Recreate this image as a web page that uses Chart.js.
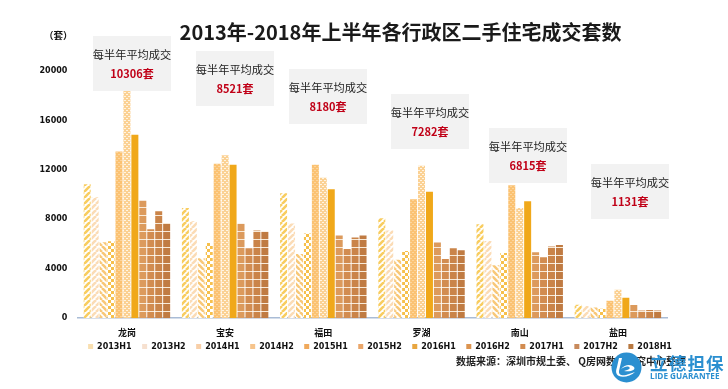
<!DOCTYPE html>
<html>
<head>
<meta charset="utf-8">
<script src="https://cdn.jsdelivr.net/npm/chart.js@4/dist/chart.umd.min.js"></script>
<style>
  html, body { margin: 0; padding: 0; background: #fff; }
  #wrap { position: relative; width: 728px; height: 389px; overflow: hidden; font-family: "Noto Sans CJK SC", sans-serif; }
  canvas { position: absolute; left: 0; top: 0; }
  .box { position: absolute; width: 78px; height: 55px; background: #f2f2f2; text-align: center; }
  .box .t { position: absolute; left: -2px; right: -2px; top: 10px; font-size: 11.2px; line-height: 16px; color: #222; white-space: nowrap; }
  .box .v { position: absolute; left: 0; right: 0; top: 29px; font-size: 11px; line-height: 16px; font-weight: 700; color: #c00017; white-space: nowrap; }
  #unit { position: absolute; left: 44px; top: 28px; font-size: 9.5px; font-weight: 700; color: #111; }
  #source { position: absolute; left: 456px; top: 353px; font-size: 10px; line-height: 15px; font-weight: 700; color: #222; white-space: nowrap; }
  #logo { position: absolute; left: 611px; top: 352px; width: 31px; height: 31px; }
  #logoCn { position: absolute; left: 650px; top: 352px; font-size: 17.5px; line-height: 22px; letter-spacing: 1.2px; font-weight: 700; color: #2b8fd0; white-space: nowrap; }
  #logoEn { position: absolute; left: 650px; top: 371px; font-family: "Open Sans", sans-serif; font-size: 8.2px; line-height: 10px; font-weight: 700; color: #2b8fd0; white-space: nowrap; }
</style>
</head>
<body>
<div id="wrap">
  <canvas id="chart" width="728" height="389"></canvas>
  <div id="unit">（套）</div>
  <div id="source">数据来源：深圳市规土委、 Q房网数据研究中心整理</div>
  <svg id="logo" viewBox="0 0 31 31">
    <circle cx="15.5" cy="15.5" r="15" fill="#2b8fd0"/>
    <path d="M11 6 L8 19 C7.5 23 11 24 15 23 L24 20 C20 24 12 26 8 24 C4 22 5 18 6 15 L8 6 Z" fill="#fff"/>
    <path d="M10 17 C14 12 20 12 23 15 C25 18 20 20 13 19 C18 18 20 16 18 15 C16 14 13 15 10 17 Z" fill="#fff"/>
  </svg>
  <div id="logoCn">立德担保</div>
  <div id="logoEn">LIDE GUARANTEE</div>
</div>
<script>
const districts = ['龙岗', '宝安', '福田', '罗湖', '南山', '盐田'];
const periods = ['2013H1', '2013H2', '2014H1', '2014H2', '2015H1', '2015H2', '2016H1', '2016H2', '2017H1', '2017H2', '2018H1'];
const tickValues = [0, 4000, 8000, 12000, 16000, 20000];
const averages = ['10306', '8521', '8180', '7282', '6815', '1131'];

const s2013H1 = [10830, 8920, 10100, 8090, 7600, 1090];
const s2013H2 = [9780, 7850, 7660, 7100, 6240, 980];
const s2014H1 = [6150, 4850, 5190, 4735, 4280, 870];
const s2014H2 = [6230, 6080, 6860, 5430, 5270, 765];
const s2015H1 = [13480, 12490, 12410, 9620, 10750, 1410];
const s2015H2 = [18900, 13190, 11370, 12330, 8920, 2295];
const s2016H1 = [14850, 12410, 10425, 10240, 9460, 1650];
const s2016H2 = [9510, 7660, 6700, 6130, 5330, 1060];
const s2017H1 = [7200, 5650, 5595, 4790, 4925, 630];
const s2017H2 = [8650, 7100, 6535, 5650, 5810, 660];
const s2018H1 = [7710, 7020, 6700, 5490, 5915, 630];
const seriesValues = [s2013H1, s2013H2, s2014H1, s2014H2, s2015H1, s2015H2, s2016H1, s2016H2, s2017H1, s2017H2, s2018H1];
const legendSwatches = ['#f9dfb0', '#f6e0cf', '#f8cfa8', '#f6c48c', '#f0a95c', '#eaa66a', '#e8a640', '#dc9450', '#d28c50', '#c88a5c', '#b87840'];

// small repeating tiles for the bar fills
function tile(w, h, draw) {
  const c = document.createElement('canvas');
  c.width = w; c.height = h;
  draw(c.getContext('2d'), w, h);
  return document.getElementById('chart').getContext('2d').createPattern(c, 'repeat');
}
function diag(color, up) {
  return tile(6, 6, (g, w, h) => {
    g.fillStyle = '#fff'; g.fillRect(0, 0, w, h);
    g.strokeStyle = color; g.lineWidth = 2.6;
    for (let i = -6; i <= 12; i += 6) {
      g.beginPath();
      if (up) { g.moveTo(i, 6); g.lineTo(i + 6, 0); }
      else { g.moveTo(i, 0); g.lineTo(i + 6, 6); }
      g.stroke();
    }
  });
}
function checker(color) {
  return tile(6, 6, (g) => {
    g.fillStyle = '#fff'; g.fillRect(0, 0, 6, 6);
    g.fillStyle = color; g.fillRect(0, 0, 3, 3); g.fillRect(3, 3, 3, 3);
  });
}
function dots(color, dot) {
  return tile(4, 4, (g) => {
    g.fillStyle = color; g.fillRect(0, 0, 4, 4);
    g.fillStyle = dot; g.fillRect(0, 0, 2, 1); g.fillRect(2, 2, 2, 1);
  });
}
function hstripes(color) {
  return tile(4, 8, (g) => {
    g.fillStyle = color; g.fillRect(0, 0, 4, 8);
    g.fillStyle = '#f8ead8'; g.fillRect(0, 7, 4, 1);
  });
}
const fills = [
  diag('#f8cd60', true), diag('#fbdcb6', true), diag('#f8c878', false), checker('#f6c04c'),
  dots('#fbc272', '#fcd59d'), dots('#fbd193', '#fff4e2'), '#f0a81a',
  hstripes('#dc9a5c'), hstripes('#d28c50'), hstripes('#ca8449'), hstripes('#c07b42')
];

const shiftBlocks = {
  id: 'shiftBlocks',
  afterLayout(chart) {
    chart.legend.left += 32; chart.legend.right += 32;
    chart.legend.top -= 15; chart.legend.bottom -= 15;
    chart.titleBlock.left += 52.5; chart.titleBlock.right += 52.5;
  }
};

new Chart(document.getElementById('chart'), {
  type: 'bar',
  data: {
    labels: districts,
    datasets: periods.map((p, i) => ({
      label: p,
      data: seriesValues[i],
      backgroundColor: fills[i],
      barPercentage: 0.88,
      categoryPercentage: 0.89
    }))
  },
  plugins: [shiftBlocks],
  options: {
    responsive: false,
    animation: false,
    layout: { padding: { left: 29, right: 61, top: 0, bottom: 13.5 } },
    plugins: {
      tooltip: { enabled: false },
      title: {
        display: true,
        text: '2013年-2018年上半年各行政区二手住宅成交套数',
        color: '#1a1a1a',
        font: { family: '"Noto Sans CJK SC"', size: 20, weight: '700' },
        padding: { top: 20, bottom: 27 }
      },
      legend: {
        position: 'bottom',
        labels: {
          boxWidth: 5,
          boxHeight: 5,
          padding: 10.5,
          color: '#111',
          font: { family: '"DejaVu Sans"', size: 8, weight: '700' },
          generateLabels: () => periods.map((p, i) => ({
            text: p, fillStyle: legendSwatches[i], strokeStyle: legendSwatches[i], lineWidth: 0, datasetIndex: i, fontColor: '#111'
          }))
        }
      }
    },
    scales: {
      x: {
        grid: { display: false, drawTicks: false },
        border: { color: '#a9bcd6', width: 1.5 },
        ticks: { color: '#111', padding: 9, font: { family: '"Noto Sans CJK SC"', size: 9, weight: '700' } }
      },
      y: {
        min: 0,
        max: 20000,
        afterBuildTicks(axis) { axis.ticks = tickValues.map(v => ({ value: v })); },
        grid: { display: false, drawTicks: false },
        border: { display: false },
        ticks: { color: '#111', padding: 10.5, callback: v => String(v), font: { family: '"DejaVu Sans"', size: 8, weight: '700' } }
      }
    }
  }
});

// grey callouts sitting over the bars
const boxSpots = [[93, 36], [196, 51], [289, 69], [391, 94], [489, 128], [591, 164]];
averages.forEach((a, i) => {
  const el = document.createElement('div');
  el.className = 'box';
  el.style.left = boxSpots[i][0] + 'px';
  el.style.top = boxSpots[i][1] + 'px';
  el.innerHTML = `<div class="t">每半年平均成交</div><div class="v">${a}套</div>`;
  document.getElementById('wrap').appendChild(el);
});
</script>
</body>
</html>
